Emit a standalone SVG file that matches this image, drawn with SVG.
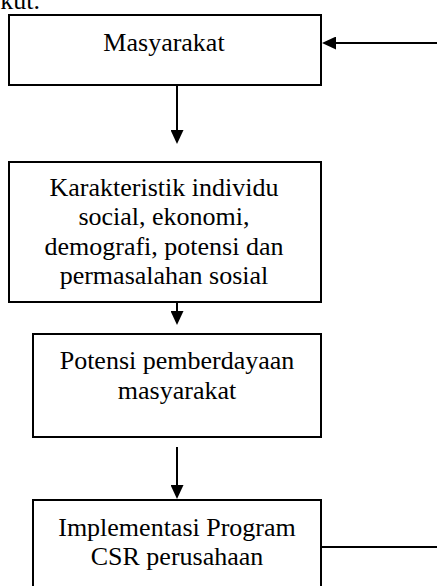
<svg xmlns="http://www.w3.org/2000/svg" width="437" height="586" viewBox="0 0 437 586">
<style>
.box{fill:#fff;stroke:#000;stroke-width:2}
.t{font-family:"Liberation Serif","Times New Roman",serif;font-size:26px;fill:#000;text-anchor:middle}
.c{stroke:#000;stroke-width:2;fill:none}
</style>
<defs>
<marker id="ah" markerUnits="userSpaceOnUse" markerWidth="14" markerHeight="13" refX="12" refY="6.5" orient="auto">
<path d="M0,0 L14,6.5 L0,13 Z" fill="#000"/>
</marker>
</defs>
<rect width="437" height="586" fill="#fff"/>
<text x="40" y="9" font-family="Liberation Serif,serif" font-size="26" text-anchor="end">kut.</text>
<g id="n1">
<rect class="box" x="9" y="15" width="312" height="70"/>
<text class="t" x="164" y="51">Masyarakat</text>
</g>
<g id="n2">
<rect class="box" x="9" y="162" width="312" height="140"/>
<text class="t" x="164" y="195.5">Karakteristik individu</text>
<text class="t" x="164" y="225">social, ekonomi,</text>
<text class="t" x="164" y="254.5">demografi, potensi dan</text>
<text class="t" x="164" y="284">permasalahan sosial</text>
</g>
<g id="n3">
<rect class="box" x="33" y="334" width="288" height="103"/>
<text class="t" x="177" y="369">Potensi pemberdayaan</text>
<text class="t" x="177" y="399">masyarakat</text>
</g>
<g id="n4">
<rect class="box" x="33" y="500" width="288" height="100"/>
<text class="t" x="177" y="535.5">Implementasi Program</text>
<text class="t" x="177" y="565">CSR perusahaan</text>
</g>
<g id="connectors">
<line class="c" x1="177" y1="86" x2="177" y2="142" marker-end="url(#ah)"/>
<line class="c" x1="177" y1="302" x2="177" y2="323" marker-end="url(#ah)"/>
<line class="c" x1="177" y1="447" x2="177" y2="497" marker-end="url(#ah)"/>
<line class="c" x1="437" y1="43" x2="324" y2="43" marker-end="url(#ah)"/>
<line class="c" x1="321" y1="547" x2="437" y2="547"/>
</g>
</svg>
